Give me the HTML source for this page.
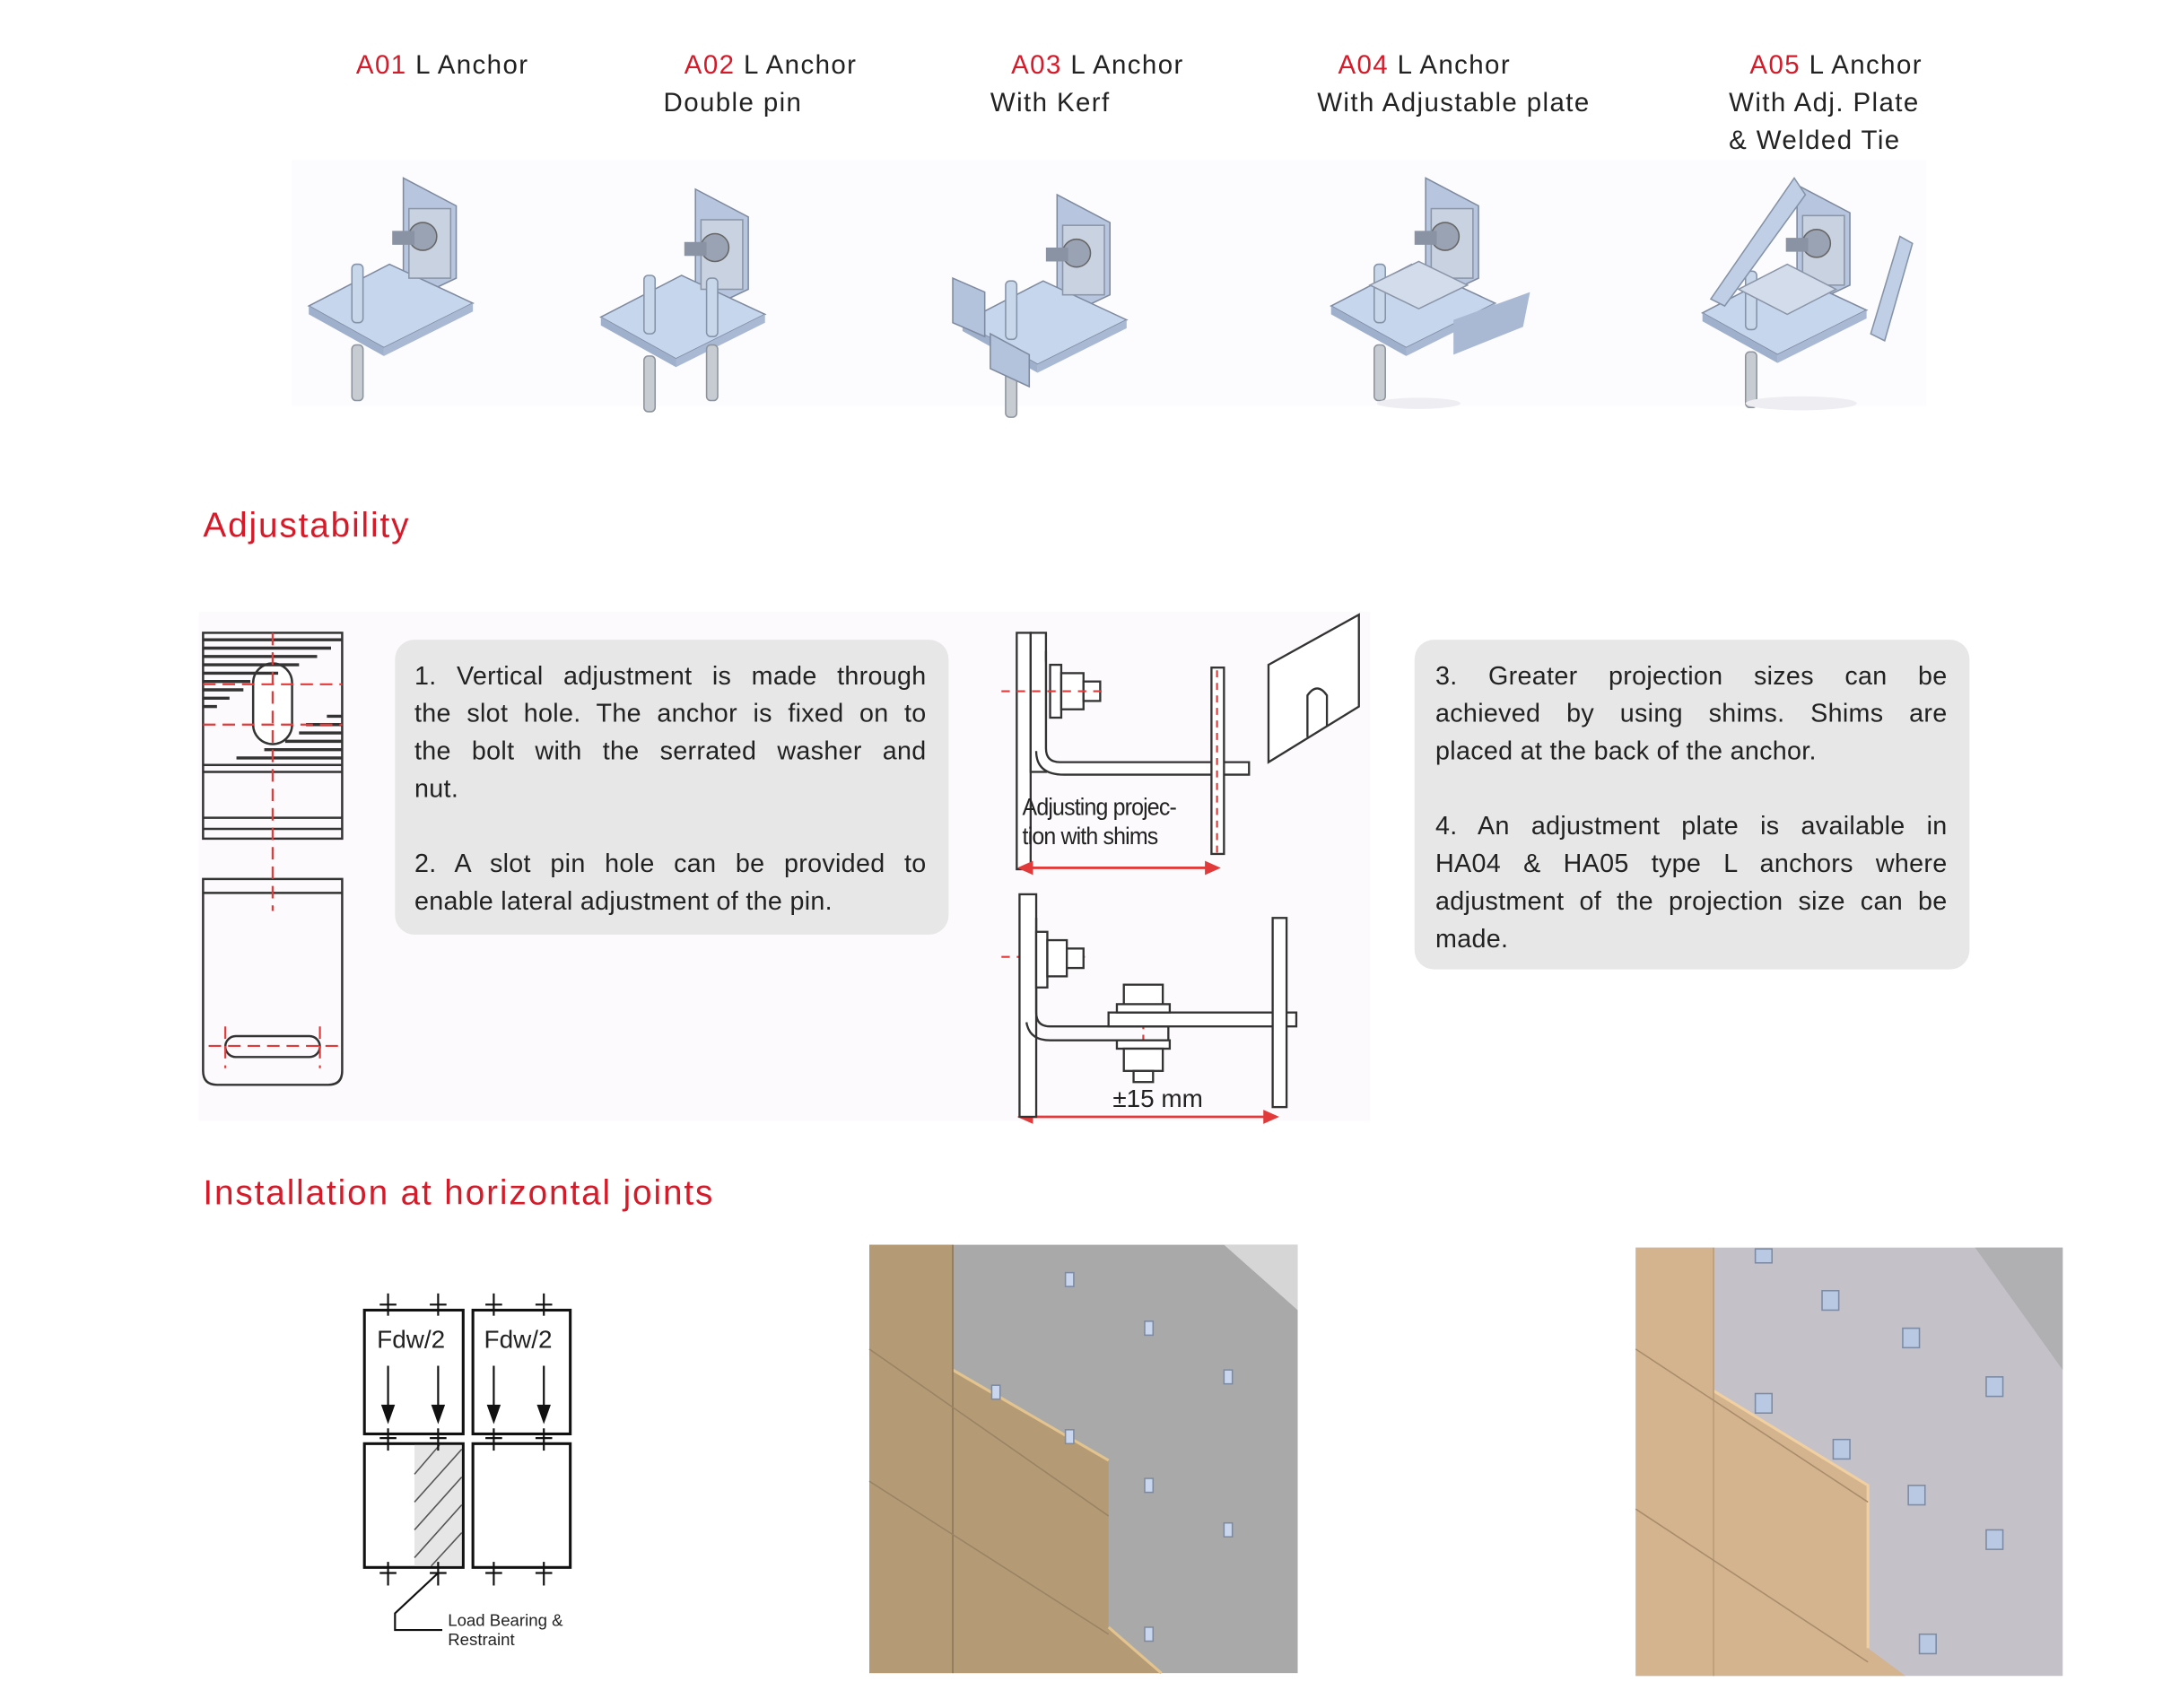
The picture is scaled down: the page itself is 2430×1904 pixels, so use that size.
<!DOCTYPE html>
<html><head><meta charset="utf-8"><style>
html,body{margin:0;padding:0;background:#fff;}
body{width:2430px;height:1903px;overflow:hidden;position:relative;}
#s{position:absolute;left:0;top:0;width:1568px;height:1228px;transform:scale(1.5504);transform-origin:0 0;font-family:"Liberation Sans",sans-serif;color:#222;}
.t{position:absolute;font-size:19px;line-height:27px;white-space:nowrap;letter-spacing:0.9px}
.r{color:#d51b2a}
.h{position:absolute;color:#d51b2a;font-size:25px;white-space:nowrap;letter-spacing:1.2px}
.box{position:absolute;background:#e7e7e7;border-radius:14px;}
.bt{position:absolute;font-size:18.5px;line-height:27px;letter-spacing:0.2px}
.bt span{display:block;text-align:justify;text-align-last:justify;white-space:nowrap}
.bt span.l{text-align-last:left}
.bt i{display:block;height:27px}
svg{position:absolute;left:0;top:0}
</style></head><body><div id="s">
<svg width="1554" height="1217" viewBox="0 0 1554 1217">
<defs>
<g id="anc">
 <polygon points="0,98 38,80 38,28 0,8" fill="#b7c6de" stroke="#7e8aa0" stroke-width="1"/>
 <polygon points="-68,100 -10,70 50,98 -14,130" fill="#c6d6ec" stroke="#7e8aa0" stroke-width="1"/>
 <polygon points="-68,100 -14,130 -14,136 -68,106" fill="#9fb0cc"/>
 <polygon points="-14,130 50,98 50,104 -14,136" fill="#a9b9d3"/>
 <rect x="4" y="30" width="30" height="50" fill="#c9d2e0" stroke="#8a95a8"/>
 <circle cx="14" cy="50" r="10" fill="#9aa3b4" stroke="#666"/>
 <rect x="-8" y="46" width="16" height="10" fill="#8a93a3"/>
 <rect x="-37" y="70" width="8" height="42" rx="3" fill="#c9d7ea" stroke="#8593a8"/>
 <rect x="-37" y="128" width="8" height="40" rx="3" fill="#c7cbd2" stroke="#8d939c"/>
</g>
</defs>
<rect x="210" y="115" width="1175" height="177" fill="#fcfbfd"/>
<use href="#anc" x="290" y="120"/>
<use href="#anc" x="500" y="128"/>
<rect x="508" y="200" width="8" height="42" rx="3" fill="#c9d7ea" stroke="#8593a8"/>
<rect x="508" y="248" width="8" height="40" rx="3" fill="#c7cbd2" stroke="#8d939c"/>
<use href="#anc" x="760" y="132"/>
<polygon points="685,200 708,210 708,242 685,232" fill="#b3c3dc" stroke="#7e8aa0"/>
<polygon points="712,240 740,255 740,278 712,265" fill="#b3c3dc" stroke="#7e8aa0"/>
<use href="#anc" x="1025" y="120"/>
<polygon points="985,205 1020,188 1055,205 1020,222" fill="#d3dcea" stroke="#8a95a8"/>
<polygon points="1045,230 1100,210 1095,235 1045,255" fill="#a9b9d3"/>
<use href="#anc" x="1292" y="125"/>
<polygon points="1250,208 1285,190 1320,208 1285,226" fill="#d3dcea" stroke="#8a95a8"/>
<polygon points="1290,128 1230,215 1240,220 1298,140" fill="#c0cfe5" stroke="#8593a8"/>
<polygon points="1375,175 1355,245 1345,240 1366,170" fill="#c0cfe5" stroke="#8593a8"/>
<ellipse cx="1020" cy="290" rx="30" ry="4" fill="#eeeef2"/>
<ellipse cx="1295" cy="290" rx="40" ry="5" fill="#eeeef2"/>

<rect x="143" y="440" width="842" height="366" fill="#fcfafc"/>
<g stroke="#333" stroke-width="1.6" fill="none">
 <rect x="146" y="455" width="100" height="148"/>
 <line x1="146" y1="550" x2="246" y2="550"/><line x1="146" y1="555" x2="246" y2="555"/>
 <line x1="146" y1="588" x2="246" y2="588"/><line x1="146" y1="596" x2="246" y2="596"/>
 <rect x="182" y="477" width="28" height="58" rx="14" fill="#fff"/>
 <path d="M146,632 H246 V770 Q246,780 236,780 H156 Q146,780 146,770 Z"/>
 <line x1="146" y1="642" x2="246" y2="642"/>
 <rect x="162" y="745" width="68" height="15" rx="7.5"/>
</g>
<g stroke="#333" stroke-width="2.2">
 <line x1="146" y1="460" x2="246" y2="460"/><line x1="146" y1="466" x2="238" y2="466"/>
 <line x1="146" y1="472" x2="228" y2="472"/><line x1="146" y1="478" x2="215" y2="478"/>
 <line x1="146" y1="484" x2="200" y2="484"/><line x1="146" y1="490" x2="180" y2="490"/>
 <line x1="146" y1="496" x2="175" y2="496"/><line x1="146" y1="502" x2="165" y2="502"/>
 <line x1="146" y1="508" x2="156" y2="508"/>
 <line x1="235" y1="515" x2="246" y2="515"/><line x1="220" y1="521" x2="246" y2="521"/>
 <line x1="215" y1="527" x2="246" y2="527"/><line x1="205" y1="533" x2="246" y2="533"/>
 <line x1="190" y1="539" x2="246" y2="539"/><line x1="170" y1="545" x2="246" y2="545"/>
</g>
<g stroke="#e23a3a" stroke-width="1.4" stroke-dasharray="9,5" fill="none">
 <line x1="196" y1="455" x2="196" y2="655"/>
 <line x1="146" y1="492" x2="246" y2="492"/><line x1="146" y1="521" x2="246" y2="521"/>
 <line x1="150" y1="752" x2="245" y2="752"/>
 <line x1="162" y1="738" x2="162" y2="768"/><line x1="230" y1="738" x2="230" y2="768"/>
</g>
<g stroke="#333" stroke-width="1.5" fill="#fff">
 <rect x="731" y="455" width="10" height="170"/>
 <rect x="741" y="455" width="11" height="100"/>
 <path d="M752,468 V538 Q752,548 762,548 H898 V557 H765 Q745,557 745,540"/>
 <rect x="755" y="478" width="8" height="38"/>
 <rect x="763" y="484" width="16" height="26"/>
 <rect x="779" y="490" width="12" height="14"/>
 <rect x="871" y="480" width="9" height="134"/>
 <polygon points="912,478 977,442 977,508 912,548"/>
 <path d="M940,530 V500 Q947,490 954,500 V522" fill="none"/>
</g>
<g stroke="#e23a3a" stroke-width="1.4" fill="none">
 <line x1="720" y1="497" x2="795" y2="497" stroke-dasharray="6,5"/>
 <line x1="875" y1="482" x2="875" y2="614" stroke-dasharray="5,4"/>
 <line x1="738" y1="624" x2="870" y2="624" stroke-width="1.8"/>
 <polygon points="733,624 742,620 742,628" fill="#e23a3a"/>
 <polygon points="876,624 867,620 867,628" fill="#e23a3a"/>
 <line x1="720" y1="688" x2="780" y2="688" stroke-dasharray="6,5"/>
 <line x1="822" y1="708" x2="822" y2="778" stroke-dasharray="5,4"/>
 <line x1="920" y1="662" x2="920" y2="795" stroke-dasharray="5,4"/>
 <line x1="738" y1="803" x2="912" y2="803" stroke-width="1.8"/>
 <polygon points="733,803 742,799 742,807" fill="#e23a3a"/>
 <polygon points="918,803 909,799 909,807" fill="#e23a3a"/>
</g>
<g stroke="#333" stroke-width="1.5" fill="#fff">
 <rect x="733" y="643" width="12" height="160" />
 <path d="M745,660 V728 Q745,738 755,738 H840 V748 H755 Q740,748 738,735" fill="none"/>
 <rect x="745" y="670" width="8" height="40"/>
 <rect x="753" y="676" width="14" height="26"/>
 <rect x="767" y="682" width="12" height="14"/>
 <rect x="797" y="728" width="135" height="10"/>
 <rect x="808" y="708" width="28" height="16"/>
 <rect x="803" y="722" width="38" height="6"/>
 <rect x="803" y="748" width="38" height="6"/>
 <rect x="808" y="754" width="28" height="16"/>
 <rect x="815" y="770" width="14" height="8"/>
 <rect x="915" y="660" width="10" height="136"/>
</g>
<g stroke="#111" stroke-width="2" fill="#fff">
 <rect x="262" y="942" width="71" height="89"/>
 <rect x="340" y="942" width="70" height="89"/>
 <rect x="262" y="1038" width="71" height="89"/>
 <rect x="340" y="1038" width="70" height="89"/>
</g>
<rect x="298" y="1039" width="34" height="87" fill="#e6e6e6"/>
<g stroke="#555" stroke-width="1">
 <line x1="298" y1="1060" x2="316" y2="1039"/><line x1="298" y1="1080" x2="332" y2="1042"/>
 <line x1="298" y1="1100" x2="332" y2="1062"/><line x1="298" y1="1120" x2="332" y2="1082"/>
 <line x1="310" y1="1126" x2="332" y2="1102"/>
</g>
<g stroke="#111" stroke-width="1.4">
 <line x1="279" y1="930" x2="279" y2="946"/><line x1="315" y1="930" x2="315" y2="946"/>
 <line x1="355" y1="930" x2="355" y2="946"/><line x1="391" y1="930" x2="391" y2="946"/>
 <line x1="273" y1="938" x2="285" y2="938"/><line x1="309" y1="938" x2="321" y2="938"/>
 <line x1="349" y1="938" x2="361" y2="938"/><line x1="385" y1="938" x2="397" y2="938"/>
 <line x1="279" y1="982" x2="279" y2="1012"/><line x1="315" y1="982" x2="315" y2="1012"/>
 <line x1="355" y1="982" x2="355" y2="1012"/><line x1="391" y1="982" x2="391" y2="1012"/>
 <line x1="273" y1="1034" x2="285" y2="1034"/><line x1="309" y1="1034" x2="321" y2="1034"/>
 <line x1="349" y1="1034" x2="361" y2="1034"/><line x1="385" y1="1034" x2="397" y2="1034"/>
 <line x1="279" y1="1027" x2="279" y2="1043"/><line x1="315" y1="1027" x2="315" y2="1043"/>
 <line x1="355" y1="1027" x2="355" y2="1043"/><line x1="391" y1="1027" x2="391" y2="1043"/>
 <line x1="279" y1="1123" x2="279" y2="1140"/><line x1="315" y1="1123" x2="315" y2="1140"/>
 <line x1="355" y1="1123" x2="355" y2="1140"/><line x1="391" y1="1123" x2="391" y2="1140"/>
 <line x1="273" y1="1131" x2="285" y2="1131"/><line x1="309" y1="1131" x2="321" y2="1131"/>
 <line x1="349" y1="1131" x2="361" y2="1131"/><line x1="385" y1="1131" x2="397" y2="1131"/>
 <polyline points="315,1131 284,1160 284,1172 318,1172" fill="none"/>
</g>
<g fill="#111">
 <polygon points="274,1010 284,1010 279,1024"/><polygon points="310,1010 320,1010 315,1024"/>
 <polygon points="350,1010 360,1010 355,1024"/><polygon points="386,1010 396,1010 391,1024"/>
</g>
<rect x="625" y="895" width="308" height="308" fill="#a9a9a9"/>
<polygon points="880,895 933,895 933,942" fill="#d6d6d6"/>
<polygon points="625,895 685,895 685,985 797,1050 797,1170 835,1203 625,1203" fill="#b49b76"/>
<polyline points="685,985 797,1050" stroke="#e3c38e" stroke-width="2" fill="none"/>
<polyline points="797,1170 835,1203" stroke="#e3c38e" stroke-width="2" fill="none"/>
<line x1="685" y1="895" x2="685" y2="1203" stroke="#8a7558"/>
<line x1="625" y1="970" x2="797" y2="1090" stroke="#9a8363"/>
<line x1="625" y1="1065" x2="797" y2="1175" stroke="#9a8363"/>
<g fill="#c9d6ee" stroke="#7c8aa3">
 <rect x="766" y="915" width="6" height="10"/><rect x="823" y="950" width="6" height="10"/>
 <rect x="880" y="985" width="6" height="10"/><rect x="713" y="996" width="6" height="10"/>
 <rect x="766" y="1028" width="6" height="10"/><rect x="823" y="1063" width="6" height="10"/>
 <rect x="880" y="1095" width="6" height="10"/><rect x="823" y="1170" width="6" height="10"/>
</g>
<rect x="1176" y="897" width="307" height="308" fill="#c5c1c9"/>
<polygon points="1420,897 1483,897 1483,985" fill="#b0b0b3"/>
<polygon points="1176,897 1232,897 1232,1000 1343,1068 1343,1185 1370,1205 1176,1205" fill="#d3b48e"/>
<polyline points="1232,1000 1343,1068 1343,1185" stroke="#f0cfa0" stroke-width="2" fill="none"/>
<line x1="1232" y1="897" x2="1232" y2="1205" stroke="#b99c78"/>
<line x1="1176" y1="970" x2="1343" y2="1080" stroke="#a98d6b"/>
<line x1="1176" y1="1085" x2="1343" y2="1195" stroke="#a98d6b"/>
<g fill="#b9c9e3" stroke="#7c8aa3">
 <rect x="1262" y="898" width="12" height="10"/><rect x="1310" y="928" width="12" height="14"/>
 <rect x="1368" y="955" width="12" height="14"/><rect x="1428" y="990" width="12" height="14"/>
 <rect x="1262" y="1002" width="12" height="14"/><rect x="1318" y="1035" width="12" height="14"/>
 <rect x="1372" y="1068" width="12" height="14"/><rect x="1428" y="1100" width="12" height="14"/>
 <rect x="1380" y="1175" width="12" height="14"/>
</g>
</svg>

<div class="t" style="left:256px;top:34px"><span class="r">A01</span> L Anchor</div>
<div class="t" style="left:492px;top:34px"><span class="r">A02</span> L Anchor</div>
<div class="t" style="left:477px;top:61px">Double pin</div>
<div class="t" style="left:727px;top:34px"><span class="r">A03</span> L Anchor</div>
<div class="t" style="left:712px;top:61px">With Kerf</div>
<div class="t" style="left:962px;top:34px"><span class="r">A04</span> L Anchor</div>
<div class="t" style="left:947px;top:61px">With Adjustable plate</div>
<div class="t" style="left:1258px;top:34px"><span class="r">A05</span> L Anchor</div>
<div class="t" style="left:1243px;top:61px">With Adj. Plate</div>
<div class="t" style="left:1243px;top:88px">&amp; Welded Tie</div>

<div class="h" style="left:146px;top:364px">Adjustability</div>
<div class="h" style="left:146px;top:844px">Installation at horizontal joints</div>

<div class="box" style="left:284px;top:460px;width:398px;height:212px"></div>
<div class="bt" style="left:298px;top:472px;width:368px">
<span>1. Vertical adjustment is made through</span>
<span>the slot hole. The anchor is fixed on to</span>
<span>the bolt with the serrated washer and</span>
<span class="l">nut.</span><i></i>
<span>2. A slot pin hole can be provided to</span>
<span class="l">enable lateral adjustment of the pin.</span></div>

<div class="box" style="left:1017px;top:460px;width:399px;height:237px"></div>
<div class="bt" style="left:1032px;top:472px;width:368px">
<span>3. Greater projection sizes can be</span>
<span>achieved by using shims. Shims are</span>
<span class="l">placed at the back of the anchor.</span><i></i>
<span>4. An adjustment plate is available in</span>
<span>HA04 &amp; HA05 type L anchors where</span>
<span>adjustment of the projection size can be</span>
<span class="l">made.</span></div>

<div style="position:absolute;left:735px;top:570px;font-size:17.5px;line-height:21px;color:#222;letter-spacing:-0.6px;transform:scaleX(0.92);transform-origin:0 0">Adjusting projec-<br>tion with shims</div>
<div style="position:absolute;left:800px;top:780px;font-size:18px;color:#222">±15 mm</div>
<div style="position:absolute;left:271px;top:953px;font-size:18px">Fdw/2</div>
<div style="position:absolute;left:348px;top:953px;font-size:18px">Fdw/2</div>
<div style="position:absolute;left:322px;top:1158px;font-size:12px;line-height:14px">Load Bearing &amp;<br>Restraint</div>
</div></body></html>
